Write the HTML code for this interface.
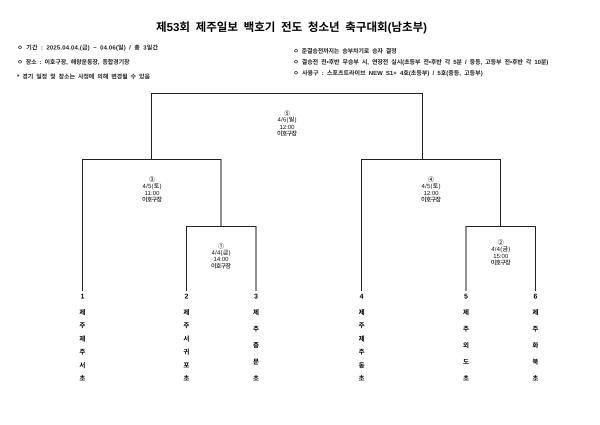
<!DOCTYPE html>
<html><head><meta charset="utf-8"><style>
html,body{margin:0;padding:0;background:#fff}
#p{position:relative;width:600px;height:425px;overflow:hidden;background:#fff}
svg{position:absolute;left:0;top:0;font-family:"Liberation Sans","Noto Sans CJK KR",sans-serif;text-rendering:geometricPrecision}
text{white-space:pre;stroke:none}
.s{font-size:6px;font-weight:700;fill:#222;word-spacing:1.5px}
.l{font-size:6px;font-weight:500;fill:#111;text-anchor:middle}
.n{font-size:6.5px;font-weight:700;fill:#000;text-anchor:middle}
.d{font-size:7px;font-weight:700;fill:#000;text-anchor:middle}
</style></head><body><div id="p">
<svg width="600" height="425" fill="none" stroke="#222" stroke-width="1">
<path d="M82.5 291V159.5H221V226"/>
<path d="M151.5 159.5V93.5H422.5V159.5"/>
<path d="M361.5 291V159.5H500.5V226"/>
<path d="M186.5 291V226.5H256V291"/>
<path d="M466 291V226.5H535.5V291"/>
<text x="156" y="31" textLength="271" style="font-size:11.5px;font-weight:700;fill:#000;word-spacing:2.5px">제53회 제주일보 백호기 전도 청소년 축구대회(남초부)</text>
<text class="s" x="17.3" y="49.5" textLength="140.7">ㅇ 기간 : 2025.04.04.(금) ~ 04.06(일) / 총 3일간</text>
<text class="s" x="17.3" y="64.2" textLength="112.2">ㅇ 장소 : 이호구장, 해왕운동장, 종합경기장</text>
<text class="s" x="17" y="78.5" textLength="133">* 경기 일정 및 장소는 사정에 의해 변경될 수 있음</text>
<text class="s" x="293.3" y="53.2" textLength="103.4">ㅇ 준결승전까지는 승부차기로 승자 결정</text>
<text class="s" x="293.3" y="64.2" textLength="255">ㅇ 결승전 전•후반 무승부 시, 연장전 실시(초등부 전•후반 각 5분 / 중등, 고등부 전•후반 각 10분)</text>
<text class="s" x="293.3" y="75.2" textLength="189.4">ㅇ 사용구 : 스포츠트라이브 NEW S1+ 4호(초등부) / 5호(중등, 고등부)</text>

<text class="l" x="287" y="115.5">⑤</text><text class="l" x="287" y="121.6" textLength="19">4/6(일)</text><text class="l" x="287" y="128.9" textLength="15">12:00</text><text class="l" x="287" y="135.5" textLength="20">이호구장</text>
<text class="l" x="152" y="181.5">③</text><text class="l" x="152" y="188.2" textLength="19">4/5(토)</text><text class="l" x="152" y="194.9" textLength="15">11:00</text><text class="l" x="152" y="201.5" textLength="20">이호구장</text>
<text class="l" x="431" y="181.5">④</text><text class="l" x="431" y="188.2" textLength="19">4/5(토)</text><text class="l" x="431" y="194.9" textLength="15">12:00</text><text class="l" x="431" y="201.5" textLength="20">이호구장</text>
<text class="l" x="221" y="247.9">①</text><text class="l" x="221" y="254.5" textLength="19">4/4(금)</text><text class="l" x="221" y="261.2" textLength="15">14:00</text><text class="l" x="221" y="267.9" textLength="20">이호구장</text>
<text class="l" x="500.7" y="244.5">②</text><text class="l" x="500.7" y="251.2" textLength="19">4/4(금)</text><text class="l" x="500.7" y="257.9" textLength="15">15:00</text><text class="l" x="500.7" y="264.5" textLength="20">이호구장</text>

<text class="d" x="82.4" y="298.5">1</text><text class="n" x="82.4" y="314.4">제</text><text class="n" x="82.4" y="327.4">주</text><text class="n" x="82.4" y="340.9">제</text><text class="n" x="82.4" y="353.9">주</text><text class="n" x="82.4" y="367.4">서</text><text class="n" x="82.4" y="380.4">초</text>
<text class="d" x="186.4" y="298.5">2</text><text class="n" x="186.4" y="314.4">제</text><text class="n" x="186.4" y="327.4">주</text><text class="n" x="186.4" y="340.9">서</text><text class="n" x="186.4" y="353.9">귀</text><text class="n" x="186.4" y="367.4">포</text><text class="n" x="186.4" y="380.4">초</text>
<text class="d" x="256" y="298.5">3</text><text class="n" x="256" y="314.4">제</text><text class="n" x="256" y="330.9">주</text><text class="n" x="256" y="347.4">중</text><text class="n" x="256" y="363.9">문</text><text class="n" x="256" y="380.4">초</text>
<text class="d" x="361.6" y="298.5">4</text><text class="n" x="361.6" y="314.4">제</text><text class="n" x="361.6" y="327.4">주</text><text class="n" x="361.6" y="340.9">제</text><text class="n" x="361.6" y="353.9">주</text><text class="n" x="361.6" y="367.4">동</text><text class="n" x="361.6" y="380.4">초</text>
<text class="d" x="466" y="298.5">5</text><text class="n" x="466" y="314.4">제</text><text class="n" x="466" y="330.9">주</text><text class="n" x="466" y="347.4">외</text><text class="n" x="466" y="363.9">도</text><text class="n" x="466" y="380.4">초</text>
<text class="d" x="535.4" y="298.5">6</text><text class="n" x="535.4" y="314.4">제</text><text class="n" x="535.4" y="330.9">주</text><text class="n" x="535.4" y="347.4">화</text><text class="n" x="535.4" y="363.9">북</text><text class="n" x="535.4" y="380.4">초</text>
</svg>
</div></body></html>
